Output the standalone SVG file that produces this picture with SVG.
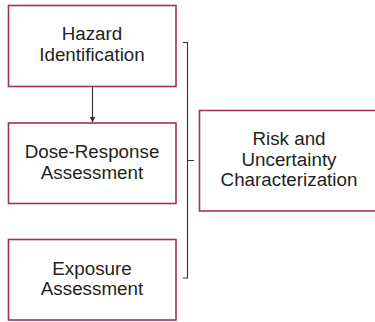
<svg xmlns="http://www.w3.org/2000/svg" width="375" height="322" viewBox="0 0 375 322">
<defs>
<style>
.box{fill:#fff;stroke:#a3324c;stroke-width:1.6}
.t{font-family:"Liberation Sans",Arial,sans-serif;font-size:18.8px;fill:#231f20;text-anchor:middle}
.c{fill:none;stroke:#333;stroke-width:1.1}
</style>
<marker id="ah" viewBox="0 0 10 10" refX="10" refY="5" markerWidth="6" markerHeight="6" orient="auto" markerUnits="userSpaceOnUse">
<path d="M0,0 L10,5 L0,10 z" fill="#333"/>
</marker>
</defs>
<rect width="375" height="322" fill="#fff"/>
<g id="connectors">
<line class="c" x1="92.5" y1="87" x2="92.5" y2="122.5" marker-end="url(#ah)"/>
<path class="c" d="M183,42.5 H187.5 V278 H183 M187.5,160.5 H194"/>
</g>
<g id="hazard">
<rect class="box" x="8.5" y="5.5" width="167.5" height="81"/>
<text class="t" x="92" y="40">Hazard</text>
<text class="t" x="92" y="60.5">Identification</text>
</g>
<g id="dose">
<rect class="box" x="8.5" y="123" width="167.5" height="80.5"/>
<text class="t" x="92" y="158">Dose-Response</text>
<text class="t" x="92" y="178.5">Assessment</text>
</g>
<g id="exposure">
<rect class="box" x="8.5" y="239.5" width="167.5" height="80.5"/>
<text class="t" x="92" y="274.5">Exposure</text>
<text class="t" x="92" y="295">Assessment</text>
</g>
<g id="risk">
<rect class="box" x="199.5" y="110.5" width="185" height="100.5"/>
<text class="t" x="289" y="145">Risk and</text>
<text class="t" x="289" y="165.5">Uncertainty</text>
<text class="t" x="289" y="186">Characterization</text>
</g>
</svg>
